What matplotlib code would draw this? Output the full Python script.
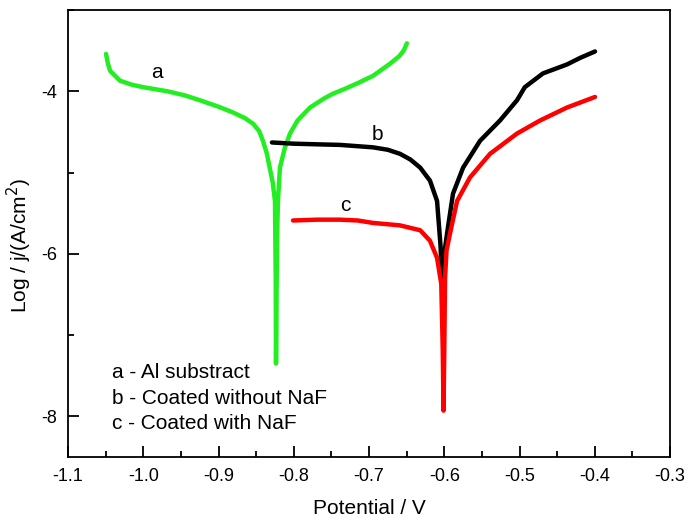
import numpy as np
import matplotlib.pyplot as plt
from matplotlib.ticker import MultipleLocator

plt.rcParams['font.family'] = ['Liberation Sans', 'DejaVu Sans']
plt.rcParams['axes.unicode_minus'] = False

# curve a - Al substrate
pot_a = [-1.0495, -1.047, -1.044, -1.031, -1.015, -1.000, -0.968, -0.945, -0.925,
         -0.900, -0.881, -0.865, -0.854, -0.846, -0.841, -0.836, -0.832, -0.828,
         -0.825, -0.824, -0.8236, -0.8228, -0.822, -0.821, -0.8184, -0.812,
         -0.805, -0.795, -0.7784, -0.760, -0.748, -0.732, -0.715, -0.6947,
         -0.672, -0.660, -0.654, -0.6497]
logj_a = [-3.54, -3.66, -3.75, -3.87, -3.92, -3.95, -4.00, -4.05, -4.11,
          -4.19, -4.26, -4.33, -4.40, -4.49, -4.61, -4.76, -4.94, -5.12,
          -5.35, -6.3, -7.35, -6.4, -5.7, -5.35, -4.94, -4.70,
          -4.52, -4.36, -4.20, -4.09, -4.03, -3.97, -3.90, -3.81,
          -3.66, -3.57, -3.50, -3.41]

# curve b - coated without NaF
pot_b = [-0.829, -0.80, -0.76, -0.7385, -0.6947, -0.675, -0.6588, -0.645, -0.632,
         -0.619, -0.6096, -0.605, -0.603, -0.600, -0.5963, -0.5884, -0.575,
         -0.5525, -0.526, -0.5033, -0.493, -0.4688, -0.4369, -0.4196, -0.3997]
logj_b = [-4.63, -4.645, -4.655, -4.66, -4.69, -4.72, -4.77, -4.84, -4.94,
          -5.10, -5.35, -5.90, -6.30, -6.00, -5.75, -5.26, -4.94,
          -4.61, -4.36, -4.11, -3.95, -3.78, -3.67, -3.59, -3.51]

# curve c - coated with NaF
pot_c = [-0.801, -0.769, -0.7385, -0.715, -0.6947, -0.659, -0.632, -0.619,
         -0.6096, -0.604, -0.602, -0.601, -0.600, -0.599, -0.597, -0.5924,
         -0.583, -0.5658, -0.5392, -0.5033, -0.4728, -0.4369, -0.3997]
logj_c = [-5.59, -5.58, -5.58, -5.59, -5.62, -5.65, -5.71, -5.84,
          -6.05, -6.37, -7.19, -7.93, -7.20, -6.30, -5.96, -5.75,
          -5.35, -5.06, -4.77, -4.52, -4.36, -4.20, -4.07]

legend_lines = ['a - Al substract', 'b - Coated without NaF', 'c - Coated with NaF']

fig = plt.figure(figsize=(6.97, 5.18), dpi=100)
ax = fig.add_axes([0.0976, 0.1178, 0.8637, 0.8629])

ax.plot(pot_a, logj_a, color='#22ee22', lw=3.2, solid_capstyle='round')
ax.plot(pot_b, logj_b, color='black', lw=3.2, solid_capstyle='round')
ax.plot(pot_c, logj_c, color='#ff0000', lw=3.2, solid_capstyle='round')

ax.text(-0.982, -3.77, 'a', fontsize=15, ha='center', va='center')
ax.text(-0.689, -4.53, 'b', fontsize=15, ha='center', va='center')
ax.text(-0.732, -5.40, 'c', fontsize=15, ha='center', va='center')

for k, line in enumerate(legend_lines):
    ax.text(-1.0415, -7.46 - 0.315 * k, line, fontsize=15, ha='left', va='center')

ax.set_xlim(-1.1, -0.3)
ax.set_ylim(-8.5, -3.0)
ax.xaxis.set_major_locator(MultipleLocator(0.1))
ax.xaxis.set_minor_locator(MultipleLocator(0.05))
ax.set_yticks([-8, -6, -4])
ax.yaxis.set_minor_locator(MultipleLocator(1))
ax.xaxis.set_major_formatter(plt.FuncFormatter(lambda v, p: '%.1f' % v))
ax.tick_params(which='both', direction='in', top=False, right=False, labelsize=13, width=1.3)
ax.tick_params(which='major', length=8, pad=8)
ax.tick_params(which='minor', length=4)
for s in ax.spines.values():
    s.set_linewidth(1.3)

ax.set_xlabel('Potential / V', fontsize=15, labelpad=10)
ax.set_ylabel('Log / j/(A/cm$^2$)', fontsize=15)
ax.yaxis.set_label_coords(-0.056, 0.472)

fig.savefig('out.png', dpi=100)
